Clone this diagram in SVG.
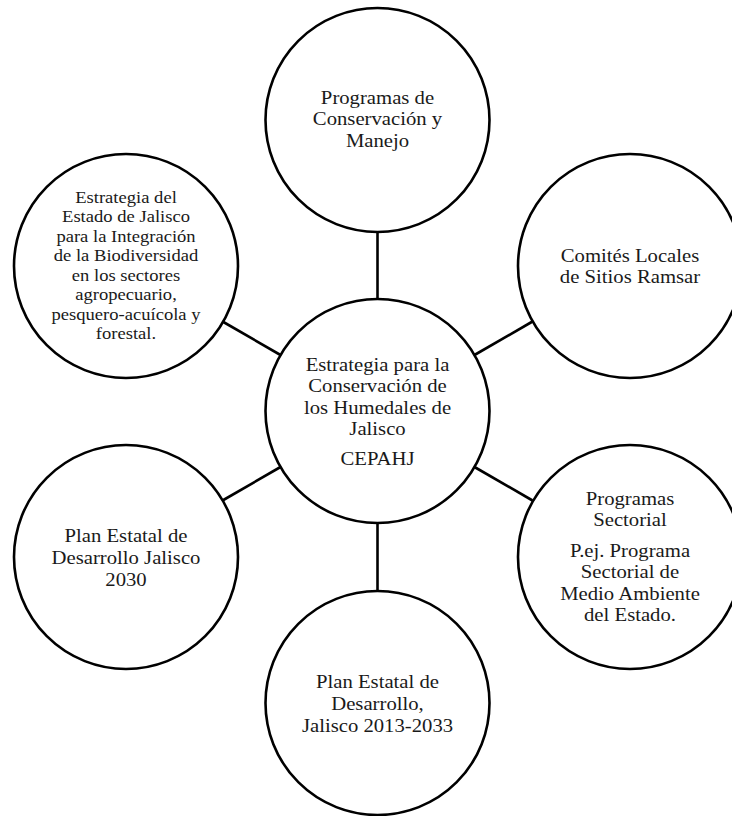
<svg xmlns="http://www.w3.org/2000/svg" width="732" height="816" viewBox="0 0 732 816">
  <style>
    .node { fill: #ffffff; stroke: #000000; stroke-width: 2.6; }
    .link { stroke: #000000; stroke-width: 2.6; fill: none; }
    .lbl { font-family: "Liberation Serif", "Times New Roman", serif; font-size: 18.5px; fill: #1a1a1a; text-anchor: middle; }
    .sm { font-size: 16.6px; }
  </style>
  <rect width="732" height="816" fill="#ffffff"/>

  <!-- spokes between the hub and the surrounding circles -->
  <g id="connectors">
    <line class="link" x1="377.5" y1="299" x2="377.5" y2="232"/>
    <line class="link" x1="280.5" y1="355" x2="222.5" y2="321.5"/>
    <line class="link" x1="474.5" y1="355" x2="532.5" y2="321.5"/>
    <line class="link" x1="280.5" y1="467" x2="222.5" y2="500.5"/>
    <line class="link" x1="474.5" y1="467" x2="532.5" y2="500.5"/>
    <line class="link" x1="377.5" y1="523" x2="377.5" y2="590"/>
  </g>

  <g id="hub">
    <circle class="node" cx="377.5" cy="411" r="112"/>
    <g transform="translate(377.5 0) scale(1.12 1)">
      <text class="lbl" x="0" y="371">Estrategia para la</text>
      <text class="lbl" x="0" y="392.5">Conservación de</text>
      <text class="lbl" x="0" y="414">los Humedales de</text>
      <text class="lbl" x="0" y="435.5">Jalisco</text>
      <text class="lbl" x="0" y="465">CEPAHJ</text>
    </g>
  </g>

  <g id="programas-conservacion">
    <circle class="node" cx="377.5" cy="120" r="112"/>
    <g transform="translate(377.5 0) scale(1.12 1)">
      <text class="lbl" x="0" y="104">Programas de</text>
      <text class="lbl" x="0" y="125.5">Conservación y</text>
      <text class="lbl" x="0" y="147">Manejo</text>
    </g>
  </g>

  <g id="estrategia-biodiversidad">
    <circle class="node" cx="126" cy="266" r="112"/>
    <g transform="translate(126 0) scale(1.12 1)">
      <text class="lbl sm" x="0" y="203">Estrategia del</text>
      <text class="lbl sm" x="0" y="222.5">Estado de Jalisco</text>
      <text class="lbl sm" x="0" y="242">para la Integración</text>
      <text class="lbl sm" x="0" y="261.5">de la Biodiversidad</text>
      <text class="lbl sm" x="0" y="281">en los sectores</text>
      <text class="lbl sm" x="0" y="300.5">agropecuario,</text>
      <text class="lbl sm" x="0" y="320">pesquero-acuícola y</text>
      <text class="lbl sm" x="0" y="339.5">forestal.</text>
    </g>
  </g>

  <g id="comites-ramsar">
    <circle class="node" cx="630" cy="266" r="112"/>
    <g transform="translate(630 0) scale(1.12 1)">
      <text class="lbl" x="0" y="262">Comités Locales</text>
      <text class="lbl" x="0" y="283">de Sitios Ramsar</text>
    </g>
  </g>

  <g id="plan-estatal-2030">
    <circle class="node" cx="126" cy="557" r="112"/>
    <g transform="translate(126 0) scale(1.12 1)">
      <text class="lbl" x="0" y="542">Plan Estatal de</text>
      <text class="lbl" x="0" y="564">Desarrollo Jalisco</text>
      <text class="lbl" x="0" y="586">2030</text>
    </g>
  </g>

  <g id="programas-sectorial">
    <circle class="node" cx="630" cy="557" r="112"/>
    <g transform="translate(630 0) scale(1.12 1)">
      <text class="lbl" x="0" y="505">Programas</text>
      <text class="lbl" x="0" y="526">Sectorial</text>
      <text class="lbl" x="0" y="557">P.ej. Programa</text>
      <text class="lbl" x="0" y="578.5">Sectorial de</text>
      <text class="lbl" x="0" y="600">Medio Ambiente</text>
      <text class="lbl" x="0" y="621.5">del Estado.</text>
    </g>
  </g>

  <g id="plan-estatal-2033">
    <circle class="node" cx="377.5" cy="703" r="112"/>
    <g transform="translate(377.5 0) scale(1.12 1)">
      <text class="lbl" x="0" y="688">Plan Estatal de</text>
      <text class="lbl" x="0" y="710">Desarrollo,</text>
      <text class="lbl" x="0" y="732">Jalisco 2013-2033</text>
    </g>
  </g>
</svg>
